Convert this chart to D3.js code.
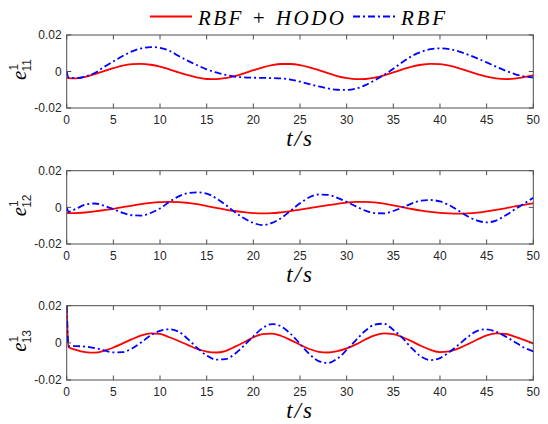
<!DOCTYPE html>
<html>
<head>
<meta charset="utf-8">
<script src="https://cdn.jsdelivr.net/npm/d3@7"></script>
<style>
    body { margin: 0; background: #fff; }
    svg { display: block; }
    .axis text { font-family: "Liberation Sans", Arial, sans-serif; font-size: 12px; fill: #262626; }
    .frame { fill: none; stroke: #4d4d4d; stroke-width: 1; }
    .tick-mark { stroke: #4d4d4d; stroke-width: 1; }
</style>
</head>
<body>
<svg id="chart"></svg>
<script>
const mathFont = "'Liberation Serif', 'Times New Roman', Times, 'DejaVu Serif', serif";

// sample times (s), shared by every panel
const time = [0, 0.2, 1, 2, 3, 4, 5, 6, 7, 8, 9, 10, 11, 12, 13, 14, 15, 16, 17, 18, 19, 20,
    21, 22, 23, 24, 25, 26, 27, 28, 29, 30, 31, 32, 33, 34, 35, 36, 37, 38, 39, 40,
    41, 42, 43, 44, 45, 46, 47, 48, 49, 50];

const e11Hodo = [-0.0035, -0.0036, -0.0038, -0.0029, -0.0014, 0.0002, 0.0018, 0.0032, 0.0040, 0.0042, 0.0037, 0.0027,
    0.0012, -0.0005, -0.0020, -0.0033, -0.0041, -0.0042, -0.0036, -0.0025, -0.0010, 0.0007,
    0.0023, 0.0035, 0.0041, 0.0041, 0.0035, 0.0023, 0.0007, -0.0009, -0.0025, -0.0036,
    -0.0042, -0.0041, -0.0033, -0.0021, -0.0005, 0.0012, 0.0027, 0.0037, 0.0042, 0.0040,
    0.0032, 0.0019, 0.0002, -0.0014, -0.0028, -0.0038, -0.0042, -0.0039, -0.0031, -0.0021];
const e11Rbf = [0.0000, -0.0033, -0.0036, -0.0027, -0.0008, 0.0025, 0.0055, 0.0085, 0.0110, 0.0127, 0.0134, 0.0130,
    0.0114, 0.0085, 0.0058, 0.0034, 0.0012, -0.0005, -0.0018, -0.0028, -0.0032, -0.0034,
    -0.0035, -0.0036, -0.0038, -0.0044, -0.0056, -0.0069, -0.0082, -0.0093, -0.0100, -0.0101,
    -0.0094, -0.0075, -0.0048, -0.0019, 0.0015, 0.0052, 0.0085, 0.0108, 0.0122, 0.0127,
    0.0123, 0.0110, 0.0092, 0.0072, 0.0050, 0.0027, 0.0005, -0.0014, -0.0027, -0.0033];

const e12Hodo = [-0.0032, -0.0032, -0.0031, -0.0028, -0.0022, -0.0015, -0.0008, 0.0001, 0.0010, 0.0018, 0.0024, 0.0028,
    0.0030, 0.0029, 0.0024, 0.0017, 0.0007, -0.0003, -0.0012, -0.0020, -0.0026, -0.0031,
    -0.0033, -0.0032, -0.0027, -0.0020, -0.0012, -0.0004, 0.0004, 0.0012, 0.0019, 0.0026,
    0.0030, 0.0030, 0.0027, 0.0020, 0.0011, 0.0001, -0.0009, -0.0018, -0.0025, -0.0030,
    -0.0033, -0.0034, -0.0033, -0.0029, -0.0022, -0.0014, -0.0005, 0.0005, 0.0014, 0.0022];
const e12Rbf = [0.0000, -0.0024, -0.0008, 0.0015, 0.0021, 0.0009, -0.0010, -0.0030, -0.0043, -0.0045, -0.0031, -0.0006,
    0.0030, 0.0060, 0.0078, 0.0082, 0.0075, 0.0050, 0.0015, -0.0025, -0.0060, -0.0085,
    -0.0097, -0.0085, -0.0058, -0.0018, 0.0022, 0.0055, 0.0070, 0.0068, 0.0052, 0.0030,
    0.0005, -0.0018, -0.0031, -0.0033, -0.0020, 0.0000, 0.0022, 0.0037, 0.0040, 0.0032,
    0.0012, -0.0018, -0.0050, -0.0072, -0.0082, -0.0072, -0.0045, -0.0012, 0.0020, 0.0052];

const e13Hodo = [0.0200, -0.0022, -0.0038, -0.0050, -0.0053, -0.0043, -0.0025, -0.0003, 0.0020, 0.0040, 0.0051, 0.0048,
    0.0030, 0.0010, -0.0012, -0.0033, -0.0047, -0.0052, -0.0044, -0.0022, 0.0003, 0.0030,
    0.0047, 0.0050, 0.0037, 0.0015, -0.0010, -0.0033, -0.0048, -0.0052, -0.0045, -0.0030,
    -0.0008, 0.0018, 0.0040, 0.0051, 0.0047, 0.0030, 0.0008, -0.0017, -0.0038, -0.0050,
    -0.0046, -0.0030, -0.0007, 0.0018, 0.0040, 0.0051, 0.0048, 0.0034, 0.0016, -0.0003];
const e13Rbf = [0.0200, -0.0018, -0.0018, -0.0020, -0.0028, -0.0040, -0.0051, -0.0050, -0.0030, 0.0003, 0.0040, 0.0065,
    0.0073, 0.0060, 0.0020, -0.0028, -0.0068, -0.0090, -0.0088, -0.0060, -0.0015, 0.0035,
    0.0080, 0.0101, 0.0088, 0.0048, -0.0005, -0.0060, -0.0098, -0.0108, -0.0085, -0.0038,
    0.0015, 0.0065, 0.0098, 0.0103, 0.0070, 0.0025, -0.0030, -0.0075, -0.0093, -0.0082,
    -0.0050, -0.0010, 0.0032, 0.0065, 0.0073, 0.0060, 0.0035, 0.0005, -0.0025, -0.0046];

const xTicks = [0, 5, 10, 15, 20, 25, 30, 35, 40, 45, 50];
const yTicks = [-0.02, 0, 0.02];
const yTickLabels = ["-0.02", "0", "0.02"];
const seriesNames = ["RBF + HODO", "RBF"];
const panelSubs = ["11", "12", "13"];

const width = 548, height = 424;
const svg = d3.select("#chart").attr("width", width).attr("height", height);

const styles = [
    { color: "#ff0000", dash: null },
    { color: "#0000ff", dash: "7,3,2,3" }
];

const x = d3.scaleLinear().domain([0, 50]).range([66.7, 533.3]);

const panels = [
    { top: 35, bottom: 108, series: [e11Hodo, e11Rbf] },
    { top: 170.7, bottom: 244, series: [e12Hodo, e12Rbf] },
    { top: 305.7, bottom: 380, series: [e13Hodo, e13Rbf] }
];

const tickLen = 4.5;

panels.forEach((p, i) => {
    const y = d3.scaleLinear().domain([-0.02, 0.02]).range([p.bottom, p.top]);
    const g = svg.append("g");

    // clip so the start-up spike never leaves the box
    const clipId = `clip${i}`;
    g.append("clipPath").attr("id", clipId)
        .append("rect")
        .attr("x", x(0)).attr("y", p.top)
        .attr("width", x(50) - x(0)).attr("height", p.bottom - p.top);

    const line = d3.line()
        .x((d, j) => x(time[j]))
        .y((d) => y(d))
        .curve(d3.curveMonotoneX);

    p.series.forEach((s, k) => {
        g.append("path")
            .datum(s)
            .attr("clip-path", `url(#${clipId})`)
            .attr("d", line)
            .attr("fill", "none")
            .attr("stroke", styles[k].color)
            .attr("stroke-width", 1.8)
            .attr("stroke-dasharray", styles[k].dash);
    });

    // box
    g.append("rect").attr("class", "frame")
        .attr("x", x(0)).attr("y", p.top)
        .attr("width", x(50) - x(0)).attr("height", p.bottom - p.top);

    // x ticks, inward on bottom and top
    const xa = g.append("g").attr("class", "axis");
    xTicks.forEach((t) => {
        xa.append("line").attr("class", "tick-mark")
            .attr("x1", x(t)).attr("x2", x(t))
            .attr("y1", p.bottom).attr("y2", p.bottom - tickLen);
        xa.append("line").attr("class", "tick-mark")
            .attr("x1", x(t)).attr("x2", x(t))
            .attr("y1", p.top).attr("y2", p.top + tickLen);
        xa.append("text")
            .attr("x", x(t)).attr("y", p.bottom + 16)
            .attr("text-anchor", "middle")
            .text(t);
    });

    // y ticks, inward on left and right
    yTicks.forEach((v, j) => {
        xa.append("line").attr("class", "tick-mark")
            .attr("x1", x(0)).attr("x2", x(0) + tickLen)
            .attr("y1", y(v)).attr("y2", y(v));
        xa.append("line").attr("class", "tick-mark")
            .attr("x1", x(50)).attr("x2", x(50) - tickLen)
            .attr("y1", y(v)).attr("y2", y(v));
        xa.append("text")
            .attr("x", x(0) - 5).attr("y", y(v) + 4.3)
            .attr("text-anchor", "end")
            .text(yTickLabels[j]);
    });

    // x label
    g.append("text")
        .style("font-family", mathFont).style("font-style", "italic")
        .attr("x", 300).attr("y", p.bottom + 38)
        .attr("text-anchor", "middle")
        .attr("font-size", 23)
        .attr("letter-spacing", 2)
        .text("t/s");

    // y label e^1_1k
    const yl = g.append("text")
        .attr("transform", `translate(26, ${(p.top + p.bottom) / 2 - 2}) rotate(-90)`)
        .attr("text-anchor", "middle");
    yl.append("tspan")
        .style("font-family", mathFont).style("font-style", "italic")
        .attr("font-size", 21).text("e");
    yl.append("tspan")
        .style("font-family", "'Liberation Sans', Arial, sans-serif")
        .attr("font-size", 12).attr("fill", "#262626")
        .attr("dy", -8).text("1");
    yl.append("tspan")
        .style("font-family", "'Liberation Sans', Arial, sans-serif")
        .attr("font-size", 12).attr("fill", "#262626")
        .attr("dx", -6.7).attr("dy", 13).text(panelSubs[i]);
});

// legend
const legend = svg.append("g");
const legendItems = [
    { x1: 150, x2: 192, tx: 198, tw: 146 },
    { x1: 353, x2: 397, tx: 401, tw: 44 }
];
legendItems.forEach((d, k) => {
    legend.append("line")
        .attr("x1", d.x1).attr("x2", d.x2)
        .attr("y1", 16.5).attr("y2", 16.5)
        .attr("stroke", styles[k].color)
        .attr("stroke-width", 1.8)
        .attr("stroke-dasharray", styles[k].dash);
    legend.append("text")
        .style("font-family", mathFont).style("font-style", "italic")
        .attr("x", d.tx).attr("y", 24.5)
        .attr("font-size", 21)
        .attr("textLength", d.tw)
        .attr("lengthAdjust", "spacing")
        .text(seriesNames[k]);
});
</script>
</body>
</html>
